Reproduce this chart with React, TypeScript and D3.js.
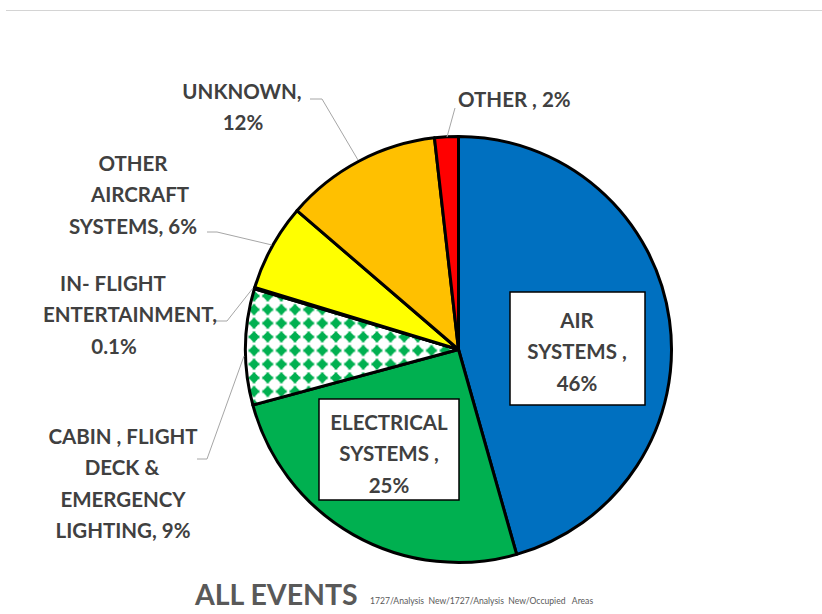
import React from "react";
import * as d3 from "d3";

const categories = [
  "AIR SYSTEMS",
  "ELECTRICAL SYSTEMS",
  "CABIN , FLIGHT DECK & EMERGENCY LIGHTING",
  "IN- FLIGHT ENTERTAINMENT",
  "OTHER AIRCRAFT SYSTEMS",
  "UNKNOWN",
  "OTHER",
];
const values = [45.6, 25.2, 8.8, 0.1, 6.6, 11.9, 1.8];
const percentLabels = ["46%", "25%", "9%", "0.1%", "6%", "12%", "2%"];
const labelLines = [
  ["AIR", "SYSTEMS ,", "46%"],
  ["ELECTRICAL", "SYSTEMS ,", "25%"],
  ["CABIN , FLIGHT", "DECK &", "EMERGENCY", "LIGHTING, 9%"],
  ["IN- FLIGHT", "ENTERTAINMENT,", "0.1%"],
  ["OTHER", "AIRCRAFT", "SYSTEMS, 6%"],
  ["UNKNOWN,", "12%"],
  ["OTHER , 2%"],
];

const fills = ["#0070C0", "#00B050", "url(#greenDots)", "#00B050", "#FFFF00", "#FFC000", "#FF0000"];

// layout (positions / styles)
const W = 822;
const H = 614;
const cx = 458.5;
const cy = 349.5;
const R = 213;
const LH = 31.3;
const textColor = "#404040";
const font = "Lato, 'Open Sans', sans-serif";

type Lay = {
  box?: [number, number, number, number];
  xs: number[];
  y0: number;
  leader?: [number, number][];
  anchor?: string;
};
const layout: Lay[] = [
  { box: [510, 292, 135, 113], xs: [577, 577, 577], y0: 328 },
  { box: [319, 399, 140, 101], xs: [389, 389, 389], y0: 430 },
  { xs: [123, 122, 123, 123], y0: 444, leader: [[197, 459], [207, 459], [244, 356]] },
  { xs: [113, 130, 114], y0: 291, leader: [[215, 321], [227, 321], [253, 288]] },
  { xs: [133, 140, 133], y0: 171, leader: [[207, 232], [217, 232], [272, 245]] },
  { xs: [242, 243], y0: 98.5, leader: [[310, 99], [322, 99], [358, 160]] },
  { xs: [458], y0: 107, anchor: "start", leader: [[455, 108], [447, 137]] },
];

export default function App() {
  const pie = d3
    .pie<number>()
    .sort(null)
    .value((d) => d)
    .startAngle(0)
    .endAngle(2 * Math.PI);
  const arcs = pie(values);
  const arc = d3.arc<d3.PieArcDatum<number>>().innerRadius(0).outerRadius(R);
  const line = d3.line();

  return (
    <svg
      width={W}
      height={H}
      style={{ position: "absolute", left: 0, top: 0, background: "#fff" }}
    >
      <defs>
        <pattern
          id="greenDots"
          patternUnits="userSpaceOnUse"
          x={266.5}
          y={308.2}
          width={13.65}
          height={13.65}
        >
          <rect width={13.65} height={13.65} fill="#fff" />
          <g transform="translate(6.8,6.8)" fill="#00B050">
            <circle r={4.1} />
            <rect x={-5.4} y={-1.4} width={10.8} height={2.8} />
            <rect x={-1.4} y={-5.4} width={2.8} height={10.8} />
          </g>
        </pattern>
      </defs>
      <line x1={6} x2={W} y1={10.5} y2={10.5} stroke="#d4d4d4" strokeWidth={1} />
      <g transform={`translate(${cx},${cy})`}>
        {arcs.map((a, i) => (
          <path
            key={categories[i]}
            d={arc(a) || ""}
            fill={fills[i]}
            stroke="#000"
            strokeWidth={3}
            strokeLinejoin="round"
          />
        ))}
      </g>
      {layout.map((l, i) =>
        l.leader ? (
          <path
            key={"ld" + i}
            d={line(l.leader) || ""}
            fill="none"
            stroke="#a6a6a6"
            strokeWidth={1}
          />
        ) : null
      )}
      {layout.map((l, i) => (
        <g key={"lb" + i}>
          {l.box ? (
            <rect
              x={l.box[0]}
              y={l.box[1]}
              width={l.box[2]}
              height={l.box[3]}
              fill="#fff"
              stroke="#000"
              strokeWidth={1.5}
            />
          ) : null}
          {labelLines[i].map((t, j) => (
            <text
              key={j}
              x={l.xs[j]}
              y={l.y0 + j * LH}
              textAnchor={l.anchor || "middle"}
              fontFamily={font}
              fontWeight="bold"
              fontSize={20.5}
              fill={textColor}
            >
              {t}
            </text>
          ))}
        </g>
      ))}
      <text x={195} y={605} fontFamily={font} fontWeight="bold" fontSize={28.5} fill="#595959">
        ALL EVENTS
      </text>
      <text x={370} y={604} fontFamily={font} fontSize={8.6} fill="#595959" xmlSpace="preserve">
        {"1727/Analysis  New/1727/Analysis  New/Occupied   Areas"}
      </text>
    </svg>
  );
}
